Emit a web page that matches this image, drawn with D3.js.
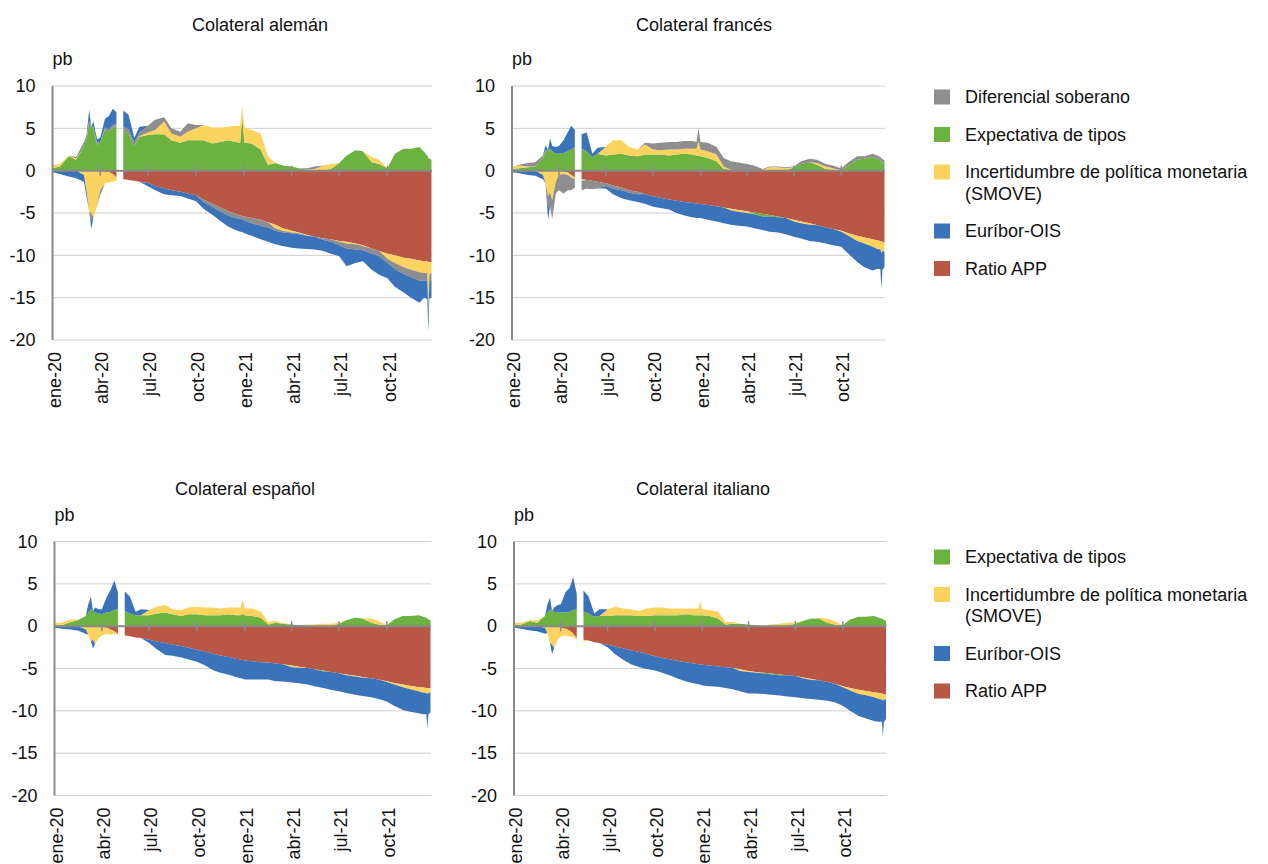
<!DOCTYPE html>
<html>
<head>
<meta charset="utf-8">
<script src="https://cdn.jsdelivr.net/npm/d3@7"></script>
<style>
  body { margin: 0; background: #fff; }
  text { font-family: Helvetica, Arial, "Liberation Sans", sans-serif; fill: #111; }
</style>
</head>
<body>
<svg id="chart" width="1268" height="864"></svg>
<script>

// fechas de muestreo (hueco de datos a principios de mayo 2020)
var dates = [
  "2020-01-01","2020-01-15","2020-02-01","2020-02-15","2020-03-01","2020-03-06","2020-03-11","2020-03-15","2020-03-19","2020-03-26",
  "2020-04-01","2020-04-10","2020-04-18","2020-04-25","2020-05-02","2020-05-08","2020-05-15","2020-05-25","2020-06-05","2020-06-15",
  "2020-07-01","2020-07-15","2020-08-01","2020-08-15","2020-09-01","2020-09-15","2020-10-01","2020-10-15","2020-11-01","2020-11-15",
  "2020-12-01","2020-12-15","2020-12-24","2020-12-28","2021-01-01","2021-01-15","2021-02-01","2021-02-15","2021-03-01","2021-03-15",
  "2021-04-01","2021-04-15","2021-05-01","2021-05-15","2021-06-01","2021-06-15","2021-07-01","2021-07-15","2021-08-01","2021-08-15",
  "2021-09-01","2021-09-15","2021-10-01","2021-10-15","2021-11-01","2021-11-15","2021-12-01","2021-12-10","2021-12-16","2021-12-18",
  "2021-12-20","2021-12-24"
]

var monthNames = ["ene","feb","mar","abr","may","jun","jul","ago","sep","oct","nov","dic"]
var yTicks = [10, 5, 0, -5, -10, -15, -20]

// Colateral alemán
var deGray = [0,0,0,0.2,0.6,0.4,0.3,-0.9,0.2,0.3,
  -0.6,0.3,0.3,0.3,0.2,null,0.4,0.5,0.4,0.4,
  0.8,1.2,0.5,0.6,0.6,1.0,0.4,-0.3,-0.4,-0.5,
  -0.5,-0.5,-0.4,-0.4,-0.5,-0.6,-0.7,-0.6,-0.3,-0.2,
  -0.1,-0.1,0.2,0.3,-0.2,-0.3,-0.4,-0.6,-0.6,-0.5,
  -0.6,-0.6,-0.5,-0.7,-0.8,-0.9,-1.0,-0.9,-0.9,-1.4,
  -0.9,-0.9]
var deGreen = [0.3,0.5,1.7,1.3,2.8,3.8,5.6,5.2,5.0,3.0,
  3.4,4.8,4.6,5.1,5.3,null,4.8,4.4,2.9,4.0,
  4.2,4.3,4.3,3.6,3.3,3.6,3.6,3.6,3.2,3.4,
  3.6,3.4,3.3,6.4,3.3,3.2,2.5,0.7,0.9,0.6,
  0.5,0.3,0.1,0.0,0.1,0.2,0.9,1.8,2.4,2.3,
  1.0,0.8,0.3,2.0,2.6,2.6,2.8,2.2,1.8,1.5,
  1.4,1.3]
var deYellow = [0.3,0.3,0.1,0.1,-0.5,-2.5,-4.8,-5.0,-5.6,-4.2,
  -2.2,-1.4,-1.2,-0.9,-0.4,null,-0.1,0,0,0.1,
  0.3,0.5,1.5,0.8,0.7,1.0,1.4,1.8,1.9,1.7,
  1.6,1.9,2.0,1.2,1.8,1.6,1.9,1.0,-0.4,-0.3,
  -0.2,-0.1,-0.1,0.2,0.5,0.6,-0.1,-0.2,-0.1,-0.1,
  0.6,0.5,-0.6,-0.9,-1.1,-1.3,-1.4,-1.4,-1.4,-5.3,
  -1.4,-1.3]
var deBlue = [-0.2,-0.4,-0.7,-0.9,-0.8,-0.6,1.3,-1.0,0.6,0.4,
  0.5,1.0,1.6,1.9,1.4,null,1.9,1.7,0.6,0.7,
  -0.4,-0.5,-0.7,-0.6,-0.5,-0.6,-0.7,-0.8,-0.9,-1.1,
  -1.3,-1.4,-1.5,-1.5,-1.5,-1.5,-1.6,-1.7,-1.6,-1.6,
  -1.7,-1.7,-1.55,-1.5,-1.3,-1.4,-1.3,-2.1,-1.6,-1.3,
  -1.9,-2.2,-1.8,-2.1,-2.2,-2.4,-2.6,-2.0,-2.2,-1.6,
  -2.0,-2.0]
var deRed = [0,0,0,0,0,0,0,0,0,0,
  -0.1,-0.1,-0.2,-0.4,-0.8,null,-1.0,-1.1,-1.2,-1.3,
  -1.45,-1.8,-2.1,-2.3,-2.5,-2.7,-2.9,-3.4,-3.9,-4.3,
  -4.8,-5.1,-5.3,-5.35,-5.4,-5.6,-5.8,-6.1,-6.4,-6.8,
  -7.1,-7.3,-7.6,-7.8,-8.0,-8.1,-8.3,-8.4,-8.6,-8.8,
  -9.2,-9.5,-9.8,-10.0,-10.3,-10.4,-10.6,-10.7,-10.7,-10.75,
  -10.8,-10.8]

// Colateral francés
var frGray = [0,0.1,0.4,0.5,0.3,0.2,-1.3,-1.6,-2.2,-1.4,
  -1.8,-2.3,-1.8,-1.5,-1.0,null,-1.1,-1.0,-1.0,-0.8,
  -0.3,-0.4,-0.3,-0.3,-0.3,0.2,0.7,0.9,0.9,0.9,
  0.9,0.9,0.8,1.5,0.9,1.0,0.9,1.0,1.0,0.9,
  0.8,0.6,0.1,0.1,0.1,0.1,0.1,0.3,0.4,0.4,
  0.3,0.3,0.2,0.4,0.4,0.3,0.4,0.4,0.4,0.4,
  0.4,0.3]
var frGreen = [0.2,0.3,0.4,0.5,1.5,2.2,2.5,2.6,2.3,2.0,
  2.0,2.1,2.3,2.5,2.8,null,2.6,2.3,1.6,2.0,
  1.8,1.9,2.0,1.8,1.7,1.9,1.9,1.9,1.8,1.9,
  2.0,1.9,1.8,1.8,1.7,1.5,1.1,0.2,0.1,0.05,
  0,-0.2,-0.3,-0.2,-0.1,0,0.4,0.8,1.0,0.7,
  0.2,0.1,0.05,0.6,1.3,1.4,1.6,1.4,1.2,1.0,
  1.0,0.9]
var frYellow = [0.2,0.3,0.1,0,-0.5,-1.5,-3.0,-2.6,-3.5,-1.3,
  -0.5,-0.3,-0.3,-0.3,-0.2,null,-0.2,0,0,0,
  1.0,1.7,1.6,1.0,0.8,1.2,0.6,0.5,0.7,0.6,
  0.6,0.7,0.8,1.7,0.8,0.8,0.8,0.3,-0.2,-0.2,
  -0.2,0,0.1,0.4,0.4,0.3,-0.2,-0.2,-0.2,0.2,
  0.3,0.2,-0.1,-0.3,-0.6,-0.7,-0.9,-1.0,-1.0,-1.4,
  -1.1,-1.1]
var frBlue = [-0.2,-0.3,-0.5,-0.6,-0.5,0.6,-1.5,1.2,0.6,0.8,
  0.9,1.5,2.2,2.8,2.0,null,1.7,2.2,0.4,0.7,
  -0.3,-0.65,-0.95,-0.9,-0.9,-1.15,-1.2,-1.2,-1.2,-1.45,
  -1.6,-1.7,-1.7,-1.7,-1.65,-1.75,-1.8,-1.85,-1.7,-1.65,
  -1.6,-1.65,-1.6,-1.75,-1.8,-1.9,-1.8,-1.8,-1.9,-1.95,
  -1.9,-1.9,-1.8,-2.1,-2.5,-2.8,-2.8,-2.35,-2.3,-4.25,
  -2.2,-1.8]
var frRed = [0,0,0,0,0,0,0,0,0,0,
  0,-0.1,-0.2,-0.5,-0.8,null,-1.0,-1.1,-1.2,-1.3,
  -1.5,-1.75,-2.0,-2.3,-2.5,-2.75,-3.05,-3.2,-3.4,-3.55,
  -3.7,-3.8,-3.9,-3.9,-3.95,-4.05,-4.2,-4.35,-4.5,-4.65,
  -4.8,-4.95,-5.1,-5.25,-5.4,-5.6,-5.8,-6.0,-6.2,-6.45,
  -6.7,-6.9,-7.1,-7.4,-7.7,-7.9,-8.1,-8.25,-8.3,-8.35,
  -8.4,-8.5]

// Colateral español
var esGreen = [0.1,0.1,0.5,0.7,1.2,1.6,2.0,1.8,1.6,1.5,
  1.4,1.6,1.7,1.9,2.0,null,1.8,1.5,1.3,1.3,
  1.3,1.5,1.6,1.4,1.2,1.4,1.4,1.3,1.3,1.3,
  1.4,1.3,1.3,1.5,1.3,1.2,1.0,0.2,0.4,0.3,
  0.2,0.1,0.1,0,-0.1,0,0.3,0.7,1.0,0.9,
  0.4,0.2,0.1,0.8,1.2,1.2,1.3,1.1,1.0,0.9,
  0.8,0.7]
var esYellow = [0.3,0.3,0.3,0.1,-0.4,-1.0,-1.8,-1.6,-2.1,-1.4,
  -1.0,-0.7,-0.6,-0.3,-0.1,null,-0.1,0,0,0,
  0.6,0.8,0.9,0.6,0.7,0.8,0.9,0.9,0.9,0.8,
  0.8,0.9,0.9,1.7,0.8,0.9,0.7,0.3,0.2,0.1,
  -0.2,-0.1,0.1,0.2,0.3,0.3,0.1,-0.1,-0.1,-0.1,
  0.5,0.4,-0.1,-0.2,-0.3,-0.4,-0.5,-0.6,-0.6,-0.7,
  -0.6,-0.5]
var esBlue = [-0.2,-0.3,-0.4,-0.5,-0.5,1.0,1.5,-1.0,0.6,0.5,
  0.6,1.8,2.6,3.5,2.0,null,2.3,2.0,0.4,0.7,
  -0.4,-0.9,-1.4,-1.3,-1.35,-1.4,-1.4,-1.6,-1.95,-2.05,
  -2.1,-2.15,-2.2,-2.2,-2.25,-2.15,-2.05,-2.0,-2.1,-2.05,
  -1.8,-1.85,-1.95,-2.0,-1.95,-2.1,-2.15,-2.1,-2.15,-2.15,
  -2.25,-2.3,-2.3,-2.5,-2.7,-2.65,-2.6,-2.55,-2.5,-4.1,
  -2.5,-2.4]
var esRed = [0,0,0,0,0,0,0,0,0,0,
  -0.1,-0.2,-0.4,-0.6,-0.9,null,-1.1,-1.2,-1.35,-1.4,
  -1.6,-1.8,-2.0,-2.2,-2.35,-2.55,-2.8,-3.0,-3.25,-3.45,
  -3.65,-3.85,-3.95,-4.0,-4.05,-4.15,-4.25,-4.3,-4.4,-4.5,
  -4.65,-4.8,-4.95,-5.1,-5.25,-5.4,-5.55,-5.7,-5.85,-6.0,
  -6.15,-6.3,-6.5,-6.7,-6.9,-7.05,-7.2,-7.25,-7.3,-7.3,
  -7.3,-7.3]

// Colateral italiano
var itGreen = [0.1,0.2,0.6,0.4,1.2,1.6,2.0,1.8,1.7,1.6,
  1.6,1.6,1.7,1.9,2.0,null,1.7,1.5,1.1,1.2,
  1.2,1.3,1.3,1.3,1.2,1.2,1.3,1.3,1.3,1.3,
  1.4,1.3,1.3,1.3,1.3,1.2,0.9,0.2,0.3,0.3,
  0.2,0.1,-0.1,-0.1,-0.1,0.1,0.3,0.6,0.9,0.9,
  0.4,0.2,0.1,0.8,1.1,1.1,1.2,1.0,0.9,0.8,
  0.8,0.6]
var itYellow = [0.3,0.2,0.1,0.3,-0.2,-0.8,-2.0,-2.2,-2.6,-1.6,
  -1.0,-0.8,-0.7,-0.4,-0.2,null,-0.2,0,0,0,
  0.8,1.0,0.8,0.7,0.6,0.9,0.9,0.9,0.8,0.8,
  0.7,0.8,0.8,1.6,0.7,0.7,0.8,0.3,0.2,-0.2,
  -0.1,-0.1,0.1,0.2,0.3,0.3,0.1,-0.1,-0.1,0.1,
  0.5,0.4,-0.1,-0.3,-0.5,-0.5,-0.6,-0.7,-0.7,-0.8,
  -0.7,-0.6]
var itBlue = [-0.2,-0.3,-0.5,-0.6,-0.7,1.0,1.4,-1.1,0.5,0.9,
  1.0,2.4,2.8,3.9,1.8,null,2.5,2.0,0.4,0.8,
  -0.3,-0.9,-1.35,-1.65,-1.8,-1.75,-1.7,-1.75,-1.9,-2.1,
  -2.3,-2.35,-2.35,-2.4,-2.45,-2.45,-2.4,-2.45,-2.5,-2.4,
  -2.55,-2.45,-2.4,-2.4,-2.4,-2.5,-2.5,-2.35,-2.25,-2.3,
  -2.2,-2.2,-2.2,-2.4,-2.6,-2.75,-2.8,-2.7,-2.65,-4.2,
  -2.6,-2.4]
var itRed = [0,0,0,0,0,0,0,0,0,0,
  -0.2,-0.3,-0.5,-0.9,-1.4,null,-1.6,-1.7,-1.9,-2.0,
  -2.2,-2.4,-2.65,-2.85,-3.05,-3.3,-3.55,-3.75,-3.95,-4.1,
  -4.25,-4.4,-4.5,-4.5,-4.55,-4.65,-4.75,-4.85,-4.95,-5.1,
  -5.3,-5.4,-5.5,-5.6,-5.7,-5.8,-5.9,-6.05,-6.25,-6.4,
  -6.6,-6.8,-7.1,-7.3,-7.5,-7.65,-7.8,-7.9,-7.95,-8.0,
  -8.0,-8.0]

// orden de apilado: el primero queda pegado al cero
var stackKeys = ["red", "green", "yellow", "gray", "blue"]
var colors = {gray: "#8e8e8e", green: "#6cb240", yellow: "#fcd35e", blue: "#3b73ba", red: "#b85745"}
var labels = {
  gray: ["Diferencial soberano"],
  green: ["Expectativa de tipos"],
  yellow: ["Incertidumbre de política monetaria", "(SMOVE)"],
  blue: ["Euríbor-OIS"],
  red: ["Ratio APP"]
}

var panels = [
  {title: "Colateral alemán", titleX: 260, series: {gray: deGray, green: deGreen, yellow: deYellow, blue: deBlue, red: deRed},
   left: 52.5, right: 432, top: 86, bottom: 340},
  {title: "Colateral francés", titleX: 704, series: {gray: frGray, green: frGreen, yellow: frYellow, blue: frBlue, red: frRed},
   left: 512, right: 885, top: 86, bottom: 340},
  {title: "Colateral español", titleX: 245, series: {green: esGreen, yellow: esYellow, blue: esBlue, red: esRed},
   left: 54.5, right: 431, top: 541.5, bottom: 795.5},
  {title: "Colateral italiano", titleX: 703, series: {green: itGreen, yellow: itYellow, blue: itBlue, red: itRed},
   left: 514, right: 886.5, top: 541.5, bottom: 795.5}
]

var legends = [
  {keys: ["gray", "green", "yellow", "blue", "red"], y: 97},
  {keys: ["green", "yellow", "blue", "red"], y: 557}
]

var parse = d3.timeParse("%Y-%m-%d")
var svg = d3.select("#chart")
var axisColor = "#8a8a8a"

panels.forEach(function(p, pi) {

  var rows = dates.map(function(d, i) {
    var r = {date: parse(d), gap: p.series.red[i] == null}
    stackKeys.forEach(function(k) {
      var arr = p.series[k]
      r[k] = arr && arr[i] != null ? arr[i] : 0
    })
    return r
  })

  var x = d3.scaleTime()
    .domain([parse("2020-01-01"), parse("2021-12-25")])
    .range([p.left, p.right])
  var y = d3.scaleLinear().domain([-20, 10]).range([p.bottom, p.top])

  var g = svg.append("g")

  // lineas de rejilla
  g.selectAll(".grid")
    .data(yTicks.filter(function(t) { return t !== 0 }))
    .enter().append("line")
    .attr("x1", p.left).attr("x2", p.right)
    .attr("y1", function(t) { return y(t) }).attr("y2", function(t) { return y(t) })
    .style("stroke", "#cfcfcf").style("stroke-width", 1)

  // positivos y negativos apilados por separado
  var posStack = d3.stack().keys(stackKeys)
    .value(function(d, k) { return Math.max(0, d[k]) })(rows)
  var negStack = d3.stack().keys(stackKeys)
    .value(function(d, k) { return Math.min(0, d[k]) })(rows)

  var area = d3.area()
    .defined(function(d) { return !d.data.gap })
    .x(function(d) { return x(d.data.date) })
    .y0(function(d) { return y(d[0]) })
    .y1(function(d) { return y(d[1]) })

  var clipId = "clip" + pi
  g.append("clipPath").attr("id", clipId).append("rect")
    .attr("x", p.left).attr("y", p.top)
    .attr("width", p.right - p.left).attr("height", p.bottom - p.top)

  var areas = g.append("g").attr("clip-path", "url(#" + clipId + ")")
  posStack.concat(negStack).forEach(function(s) {
    if (!p.series[s.key]) return
    areas.append("path")
      .attr("d", area(s))
      .style("fill", colors[s.key])
  })

  // eje vertical
  g.append("line")
    .attr("x1", p.left).attr("x2", p.left)
    .attr("y1", p.top).attr("y2", p.bottom)
    .style("stroke", axisColor).style("stroke-width", 2)

  g.selectAll(".ylab")
    .data(yTicks)
    .enter().append("text")
    .attr("x", p.left - 17)
    .attr("y", function(t) { return y(t) })
    .attr("dy", "0.35em")
    .attr("text-anchor", "end")
    .style("font-size", "18px")
    .text(function(t) { return t })

  // linea del cero con marcas trimestrales
  var ticks = x.ticks(d3.timeMonth.every(3))
  g.append("line")
    .attr("x1", p.left).attr("x2", p.right)
    .attr("y1", y(0)).attr("y2", y(0))
    .style("stroke", axisColor).style("stroke-width", 2)
  g.selectAll(".tick0")
    .data(ticks.slice(1))
    .enter().append("line")
    .attr("x1", function(d) { return x(d) }).attr("x2", function(d) { return x(d) })
    .attr("y1", y(0) - 5).attr("y2", y(0) + 5)
    .style("stroke", axisColor).style("stroke-width", 1.5)

  g.selectAll(".xlab")
    .data(ticks)
    .enter().append("text")
    .attr("transform", function(d) { return "translate(" + x(d) + "," + (p.bottom + 12) + ") rotate(-90)" })
    .attr("dy", "0.45em")
    .attr("text-anchor", "end")
    .style("font-size", "18px")
    .text(function(d) { return monthNames[d.getMonth()] + "-" + d3.timeFormat("%y")(d) })

  g.append("text")
    .attr("x", p.left).attr("y", p.top - 21)
    .style("font-size", "18px")
    .text("pb")

  g.append("text")
    .attr("x", p.titleX).attr("y", p.top - (pi < 2 ? 55 : 47))
    .attr("text-anchor", "middle")
    .style("font-size", "18px")
    .text(p.title)
})

// leyendas
legends.forEach(function(lg) {
  var cy = lg.y
  lg.keys.forEach(function(k) {
    svg.append("rect")
      .attr("x", 934).attr("y", cy - 7.5)
      .attr("width", 16).attr("height", 15)
      .style("fill", colors[k])
    labels[k].forEach(function(line, li) {
      svg.append("text")
        .attr("x", 965).attr("y", cy + li * 21.5)
        .attr("dy", "0.35em")
        .style("font-size", "18px")
        .text(line)
    })
    cy += 37.5 + (labels[k].length - 1) * 21.5
  })
})

</script>
</body>
</html>
